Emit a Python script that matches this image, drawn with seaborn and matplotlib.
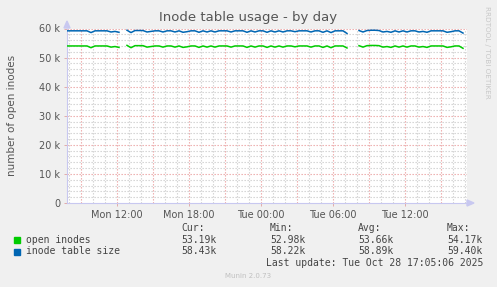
import numpy as np
import pandas as pd
import matplotlib
matplotlib.use("Agg")
import matplotlib.pyplot as plt
import seaborn as sns

# ---- data (hours since Monday 00:00, 20-minute steps) ----
start_hour = 7 + 50 / 60
step_hour = 20 / 60
open_inodes = [
    54.0, 54.0, 54.0, 54.0, 54.0, 54.0, 53.4, 54.0, 54.0, 54.0,
    54.0, 53.6, 53.8, 53.5, np.nan, 54.2, 53.4, 54.1, 54.1, 54.1,
    53.6, 53.8, 54.0, 54.0, 53.6, 54.0, 54.0, 53.6, 54.0, 53.5,
    53.7, 54.0, 54.0, 53.5, 54.0, 53.6, 54.0, 53.6, 54.0, 54.0,
    54.0, 53.6, 54.0, 54.0, 54.0, 53.5, 54.0, 53.6, 54.0, 54.0,
    53.5, 54.0, 53.6, 54.0, 53.6, 54.0, 54.0, 53.7, 54.0, 54.0,
    54.0, 53.6, 54.0, 54.0, 53.5, 54.0, 53.4, 54.0, 54.0, 54.0,
    53.3, np.nan, np.nan, 54.1, 53.6, 54.1, 54.17, 54.17, 54.1, 53.6,
    53.8, 53.5, 54.0, 53.6, 54.0, 53.6, 54.0, 54.0, 53.6, 53.8,
    53.5, 54.0, 54.0, 54.0, 54.0, 53.5, 53.7, 54.0, 54.0, 53.19,
]
inode_table_size = [
    59.2, 59.2, 59.2, 59.2, 59.2, 59.2, 58.6, 59.2, 59.2, 59.2,
    59.2, 58.8, 59.0, 58.7, np.nan, 59.4, 58.6, 59.3, 59.3, 59.3,
    58.8, 59.0, 59.2, 59.2, 58.8, 59.2, 59.2, 58.8, 59.2, 58.7,
    58.9, 59.2, 59.2, 58.7, 59.2, 58.8, 59.2, 58.8, 59.2, 59.2,
    59.2, 58.8, 59.2, 59.2, 59.2, 58.7, 59.2, 58.8, 59.2, 59.2,
    58.7, 59.2, 58.8, 59.2, 58.8, 59.2, 59.2, 58.9, 59.2, 59.2,
    59.2, 58.8, 59.2, 59.2, 58.7, 59.2, 58.6, 59.2, 59.2, 59.2,
    58.3, np.nan, np.nan, 59.3, 58.8, 59.3, 59.4, 59.4, 59.3, 58.8,
    59.0, 58.7, 59.2, 58.8, 59.2, 58.8, 59.2, 59.2, 58.8, 59.0,
    58.7, 59.2, 59.2, 59.2, 59.2, 58.7, 58.9, 59.2, 59.2, 58.43,
]
series_names = ["open inodes", "inode table size"]
series_colors = ["#00CC00", "#0066B3"]
x_tick_hours = [12, 18, 24, 30, 36]
x_tick_labels = ["Mon 12:00", "Mon 18:00", "Tue 00:00", "Tue 06:00", "Tue 12:00"]
y_ticks = [0, 10000, 20000, 30000, 40000, 50000, 60000]
y_tick_labels = ["0", "10 k", "20 k", "30 k", "40 k", "50 k", "60 k"]
legend_cur = ["53.19k", "58.43k"]
legend_min = ["52.98k", "58.22k"]
legend_avg = ["53.66k", "58.89k"]
legend_max = ["54.17k", "59.40k"]

# ---- build long table ----
rows = []
for name, vals in zip(series_names, [open_inodes, inode_table_size]):
    seg = 0
    prev_nan = False
    for i, v in enumerate(vals):
        h = start_hour + i * step_hour
        if np.isnan(v):
            prev_nan = True
            continue
        if prev_nan:
            seg += 1
            prev_nan = False
        rows.append({"hour": h, "value": v * 1000, "series": name, "seg": seg})
df = pd.DataFrame(rows)

W, H = 497, 287
fig = plt.figure(figsize=(W / 100, H / 100), dpi=100, facecolor="#F0F0F0")
ax = fig.add_axes([67 / W, (H - 203) / H, 400 / W, (203 - 28.5) / H])
ax.set_facecolor("white")

x0 = start_hour
x1 = start_hour + 400 / 12
ax.set_xlim(x0, x1)
ax.set_ylim(0, 60000)

# grid
minor_col = "#CFCFCF"
major_col = "#EBA5A5"
dots = (0, (1.2, 1.5))
for h in np.arange(8, 42, 1):
    if x0 < h < x1 + 0.01:
        ax.axvline(h, color=major_col if h % 3 == 0 else minor_col,
                   lw=0.8, ls=dots, zorder=1)
for y in range(2000, 60001, 2000):
    ax.axhline(y, color=major_col if y % 10000 == 0 else minor_col,
               lw=0.8, ls=dots, zorder=1)

sns.lineplot(data=df, x="hour", y="value", hue="series", units="seg",
             estimator=None, palette=dict(zip(series_names, series_colors)),
             linewidth=1.1, legend=False, ax=ax, zorder=3)

ax.set_xticks(x_tick_hours)
ax.set_xticklabels(x_tick_labels)
ax.set_yticks(y_ticks)
ax.set_yticklabels(y_tick_labels)
ax.tick_params(axis="both", labelsize=7, colors="#555555", length=2,
               width=0.6, pad=3)
ax.tick_params(axis="both", color="#E0A0A0")
ax.set_xlabel("")
ax.set_ylabel("number of open inodes", fontsize=7.5, color="#555555")
ax.yaxis.set_label_coords(-0.125, 0.5)

for s in ["top", "right"]:
    ax.spines[s].set_visible(False)
for s in ["left", "bottom"]:
    ax.spines[s].set_color("#C8C8F0")
    ax.spines[s].set_linewidth(0.8)

# axis arrows
fig.patches.append(plt.Polygon([[64 / W, (H - 28) / H], [70 / W, (H - 28) / H],
                                [67 / W, (H - 21) / H]], closed=True,
                               transform=fig.transFigure, color="#C8C8F0"))
fig.patches.append(plt.Polygon([[467 / W, (H - 200) / H], [467 / W, (H - 206) / H],
                                [474 / W, (H - 203) / H]], closed=True,
                               transform=fig.transFigure, color="#C8C8F0"))

fig.text(248 / W, 1 - 18 / H, "Inode table usage - by day", ha="center",
         va="center", fontsize=9.5, color="#555555")
fig.text(487 / W, 1 - 52 / H, "RRDTOOL / TOBI OETIKER", rotation=270,
         ha="center", va="center", fontsize=5.2, color="#C8C8C8")

mono = "DejaVu Sans Mono"
fs = 7
tc = "#444444"
col_x = [217, 306, 394, 483]
headers = ["Cur:", "Min:", "Avg:", "Max:"]
for cx, hd in zip([181, 270, 358, 447], headers):
    fig.text(cx / W, 1 - 228 / H, hd, family=mono, fontsize=fs, color=tc,
             ha="left", va="center")
for r, (name, colr) in enumerate(zip(series_names, series_colors)):
    yy = 240 + r * 11.5
    fig.patches.append(plt.Rectangle((14 / W, 1 - (yy + 3) / H), 6 / W, 6 / H,
                                     transform=fig.transFigure, color=colr))
    fig.text(26 / W, 1 - yy / H, name, family=mono, fontsize=fs, color=tc,
             ha="left", va="center")
    for cx, vals in zip(col_x, [legend_cur, legend_min, legend_avg, legend_max]):
        fig.text(cx / W, 1 - yy / H, vals[r], family=mono, fontsize=fs,
                 color=tc, ha="right", va="center")
fig.text(483 / W, 1 - 263 / H, "Last update: Tue Oct 28 17:05:06 2025",
         family=mono, fontsize=fs, color=tc, ha="right", va="center")
fig.text(248 / W, 1 - 276 / H, "Munin 2.0.73", fontsize=5, color="#C0C0C0",
         ha="center", va="center")

fig.savefig("out.png", dpi=100, facecolor=fig.get_facecolor())
